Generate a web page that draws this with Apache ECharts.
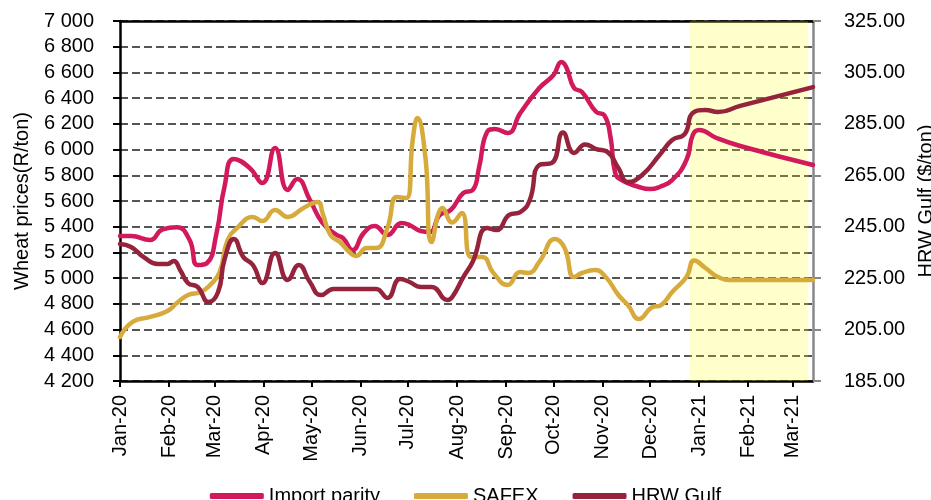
<!DOCTYPE html>
<html>
<head>
<meta charset="utf-8">
<script src="https://cdn.jsdelivr.net/npm/echarts@6/dist/echarts.min.js"></script>
<style>
  html, body { margin: 0; padding: 0; background: #fff; }
  #chart { width: 931px; height: 500px; }
</style>
</head>
<body>
<div id="chart"></div>
<script>
// month ticks on the x axis
const tickDates = ['2020-01-01', '2020-02-01', '2020-03-01', '2020-04-01', '2020-05-01', '2020-06-01', '2020-07-01',
  '2020-08-01', '2020-09-01', '2020-10-01', '2020-11-01', '2020-12-01', '2021-01-01', '2021-02-01', '2021-03-01'];
const tickLabels = ['Jan-20', 'Feb-20', 'Mar-20', 'Apr-20', 'May-20', 'Jun-20', 'Jul-20',
  'Aug-20', 'Sep-20', 'Oct-20', 'Nov-20', 'Dec-20', 'Jan-21', 'Feb-21', 'Mar-21'];

// Import parity (R/ton)
const importDates = ['2020-01-01', '2020-01-08', '2020-01-20', '2020-01-28', '2020-02-06', '2020-02-14', '2020-02-19',
  '2020-02-25', '2020-03-02', '2020-03-07', '2020-03-13', '2020-03-23', '2020-03-31', '2020-04-08', '2020-04-16',
  '2020-04-22', '2020-04-30', '2020-05-08', '2020-05-17', '2020-05-21', '2020-05-27', '2020-06-03', '2020-06-10',
  '2020-06-18', '2020-06-27', '2020-07-02', '2020-07-09', '2020-07-15', '2020-07-21', '2020-07-28', '2020-08-05',
  '2020-08-11', '2020-08-15', '2020-08-20', '2020-08-25', '2020-09-02', '2020-09-10', '2020-09-22', '2020-10-01',
  '2020-10-06', '2020-10-09', '2020-10-14', '2020-10-19', '2020-10-28', '2020-11-02', '2020-11-06', '2020-11-09',
  '2020-11-13', '2020-11-24', '2020-12-01', '2020-12-07', '2020-12-15', '2020-12-24', '2020-12-28', '2021-01-01',
  '2021-01-12', '2021-01-27', '2021-03-14'];
const importValues = [5328, 5328, 5297, 5380, 5395, 5297, 5102,
  5118, 5350, 5709, 5927, 5857, 5740, 6012, 5686,
  5771, 5608, 5429, 5336, 5312, 5219, 5350, 5406,
  5336, 5429, 5413, 5367, 5359, 5490, 5530, 5662,
  5686, 5865, 6137, 6160, 6129, 6284, 6479, 6580,
  6681, 6642, 6479, 6448, 6292, 6269, 6098, 5818,
  5763, 5709, 5693, 5709, 5763, 5919, 6113, 6152,
  6090, 6028, 5880];

// SAFEX (R/ton)
const safexDates = ['2020-01-01', '2020-01-09', '2020-01-20', '2020-01-31', '2020-02-06', '2020-02-13', '2020-02-21',
  '2020-02-27', '2020-03-04', '2020-03-09', '2020-03-15', '2020-03-25', '2020-03-31', '2020-04-08', '2020-04-16',
  '2020-04-26', '2020-05-05', '2020-05-08', '2020-05-13', '2020-05-19', '2020-05-25', '2020-05-29', '2020-06-05',
  '2020-06-11', '2020-06-18', '2020-06-24', '2020-06-30', '2020-07-04', '2020-07-07', '2020-07-12', '2020-07-16',
  '2020-07-23', '2020-07-29', '2020-08-04', '2020-08-10', '2020-08-17', '2020-08-24', '2020-09-02', '2020-09-10',
  '2020-09-15', '2020-09-22', '2020-10-02', '2020-10-08', '2020-10-14', '2020-10-19', '2020-10-27', '2020-11-03',
  '2020-11-11', '2020-11-17', '2020-11-24', '2020-12-02', '2020-12-08', '2020-12-15', '2020-12-24', '2020-12-29',
  '2021-01-05', '2021-01-13', '2021-01-22', '2021-03-14'];
const safexValues = [4542, 4659, 4698, 4745, 4807, 4869, 4892,
  4947, 5048, 5297, 5390, 5476, 5444, 5530, 5476,
  5546, 5592, 5507, 5336, 5281, 5203, 5172, 5234,
  5234, 5390, 5631, 5623, 6075, 6246, 5942, 5281,
  5546, 5433, 5507, 5164, 5164, 5040, 4947, 5048,
  5040, 5126, 5304, 5234, 5009, 5040, 5063, 5009,
  4869, 4791, 4682, 4772, 4791, 4892, 5009, 5137,
  5079, 5009, 4986, 4986];

// HRW Gulf ($/ton)
const hrwDates = ['2020-01-01', '2020-01-08', '2020-01-16', '2020-01-25', '2020-01-31', '2020-02-04', '2020-02-08',
  '2020-02-13', '2020-02-19', '2020-02-26', '2020-03-03', '2020-03-07', '2020-03-13', '2020-03-19', '2020-03-25',
  '2020-03-31', '2020-04-08', '2020-04-16', '2020-04-23', '2020-04-30', '2020-05-07', '2020-05-15', '2020-05-25',
  '2020-06-07', '2020-06-11', '2020-06-18', '2020-06-26', '2020-07-02', '2020-07-09', '2020-07-16', '2020-07-26',
  '2020-07-29', '2020-08-05', '2020-08-11', '2020-08-20', '2020-08-26', '2020-09-03', '2020-09-10', '2020-09-16',
  '2020-09-22', '2020-09-30', '2020-10-07', '2020-10-14', '2020-10-21', '2020-10-28', '2020-11-04', '2020-11-11',
  '2020-11-17', '2020-11-26', '2020-12-07', '2020-12-15', '2020-12-23', '2020-12-28', '2021-01-05', '2021-01-13',
  '2021-01-27', '2021-03-14'];
const hrwValues = [238.3, 237.1, 233.2, 230.5, 230.5, 231.7, 228.2,
  223.1, 221.6, 215.7, 219.6, 232.1, 240.2, 233.2, 230.1,
  223.1, 234.8, 224.3, 230.1, 223.5, 218.4, 220.8, 220.8,
  220.8, 220.8, 217.3, 224.7, 223.5, 221.6, 221.6, 216.5,
  217.7, 225.4, 231.5, 244.5, 243.7, 249.6, 250.7, 255.4,
  269.0, 269.8, 281.6, 273.7, 277.0, 275.2, 274.1, 267.8,
  262.4, 265.1, 272.9, 278.7, 281.1, 289.2, 290.4, 289.6,
  292.0, 299.3];

// forecast period (shaded)
const forecastStart = '2020-12-26';
const forecastEnd = '2021-03-11';

const FONT = 'Liberation Sans, Arial, sans-serif';
const ts = d => { const p = d.split('-'); return Date.UTC(+p[0], +p[1] - 1, +p[2]); };
const pairs = (dates, vals) => dates.map((d, i) => [ts(d), vals[i]]);
const tickTs = tickDates.map(ts);

const chart = echarts.init(document.getElementById('chart'));

const option = {
  animation: false,
  backgroundColor: '#fff',
  textStyle: { fontFamily: FONT, color: '#000' },
  grid: { left: 120, right: 118, top: 21, bottom: 119, outerBoundsMode: 'none', containLabel: false },
  legend: {
    top: 481,
    left: 'center',
    icon: 'roundRect',
    itemWidth: 54,
    itemHeight: 6,
    itemGap: 34,
    textStyle: { fontSize: 20, color: '#000', fontFamily: FONT },
    data: ['Import parity', 'SAFEX', 'HRW Gulf']
  },
  xAxis: [{
    type: 'value',
    min: ts('2020-01-01'),
    max: ts('2021-03-14'),
    axisLine: { lineStyle: { color: '#000', width: 2.5 } },
    axisTick: { show: true, customValues: tickTs, length: 6, lineStyle: { color: '#000', width: 2 } },
    axisLabel: {
      customValues: tickTs,
      rotate: 90,
      margin: 14,
      fontSize: 20,
      color: '#000',
      fontFamily: FONT,
      formatter: v => tickLabels[tickTs.indexOf(v)] || ''
    },
    splitLine: { show: false }
  }, {
    type: 'value',
    position: 'top',
    min: ts('2020-01-01'),
    max: ts('2021-03-14'),
    axisLine: { show: true, lineStyle: { color: '#000', width: 2.5 } },
    axisTick: { show: false },
    axisLabel: { show: false },
    splitLine: { show: false }
  }],
  yAxis: [{
    type: 'value',
    min: 4200,
    max: 7000,
    interval: 200,
    name: 'Wheat prices(R/ton)',
    nameLocation: 'middle',
    nameGap: 88,
    nameTextStyle: { fontSize: 20, color: '#000', fontFamily: FONT },
    axisLine: { show: true, lineStyle: { color: '#000', width: 2.5 } },
    axisTick: { show: true, length: 7, lineStyle: { color: '#000', width: 2 } },
    axisLabel: {
      margin: 26,
      fontSize: 20,
      color: '#000',
      fontFamily: FONT,
      formatter: v => String(v).replace(/\B(?=(\d{3})+(?!\d))/g, ' ')
    },
    splitLine: { show: true, lineStyle: { color: '#555', width: 2, type: [8, 4] } }
  }, {
    type: 'value',
    position: 'right',
    min: 185,
    max: 325,
    interval: 20,
    name: 'HRW Gulf ($/ton)',
    nameLocation: 'middle',
    nameGap: 99,
    nameRotate: 90,
    nameTextStyle: { fontSize: 20, color: '#000', fontFamily: FONT },
    axisLine: { show: true, lineStyle: { color: '#888', width: 2.5 } },
    axisTick: { show: true, length: 8, lineStyle: { color: '#888', width: 2 } },
    axisLabel: {
      margin: 31,
      fontSize: 20,
      color: '#000',
      fontFamily: FONT,
      formatter: v => v.toFixed(2)
    },
    splitLine: { show: false }
  }],
  series: [{
    name: 'Import parity',
    type: 'line',
    data: pairs(importDates, importValues),
    yAxisIndex: 0,
    smooth: 0.5,
    showSymbol: false,
    color: '#D2195C',
    lineStyle: { width: 4.5, color: '#D2195C', cap: 'round', join: 'round' }
  }, {
    name: 'SAFEX',
    type: 'line',
    data: pairs(safexDates, safexValues),
    yAxisIndex: 0,
    smooth: 0.5,
    showSymbol: false,
    color: '#D7AA3C',
    lineStyle: { width: 4.5, color: '#D7AA3C', cap: 'round', join: 'round' }
  }, {
    name: 'HRW Gulf',
    type: 'line',
    data: pairs(hrwDates, hrwValues),
    yAxisIndex: 1,
    smooth: 0.5,
    showSymbol: false,
    color: '#96233C',
    lineStyle: { width: 4.5, color: '#96233C', cap: 'round', join: 'round' }
  }, {
    // yellow forecast overlay, drawn above the lines
    name: 'forecast',
    type: 'line',
    data: [],
    z: 10,
    silent: true,
    markArea: {
      silent: true,
      itemStyle: { color: 'rgba(255,255,0,0.2)' },
      data: [[{ xAxis: ts(forecastStart) }, { xAxis: ts(forecastEnd) }]]
    }
  }]
};

chart.setOption(option);
window.addEventListener('resize', () => chart.resize());
</script>
</body>
</html>
